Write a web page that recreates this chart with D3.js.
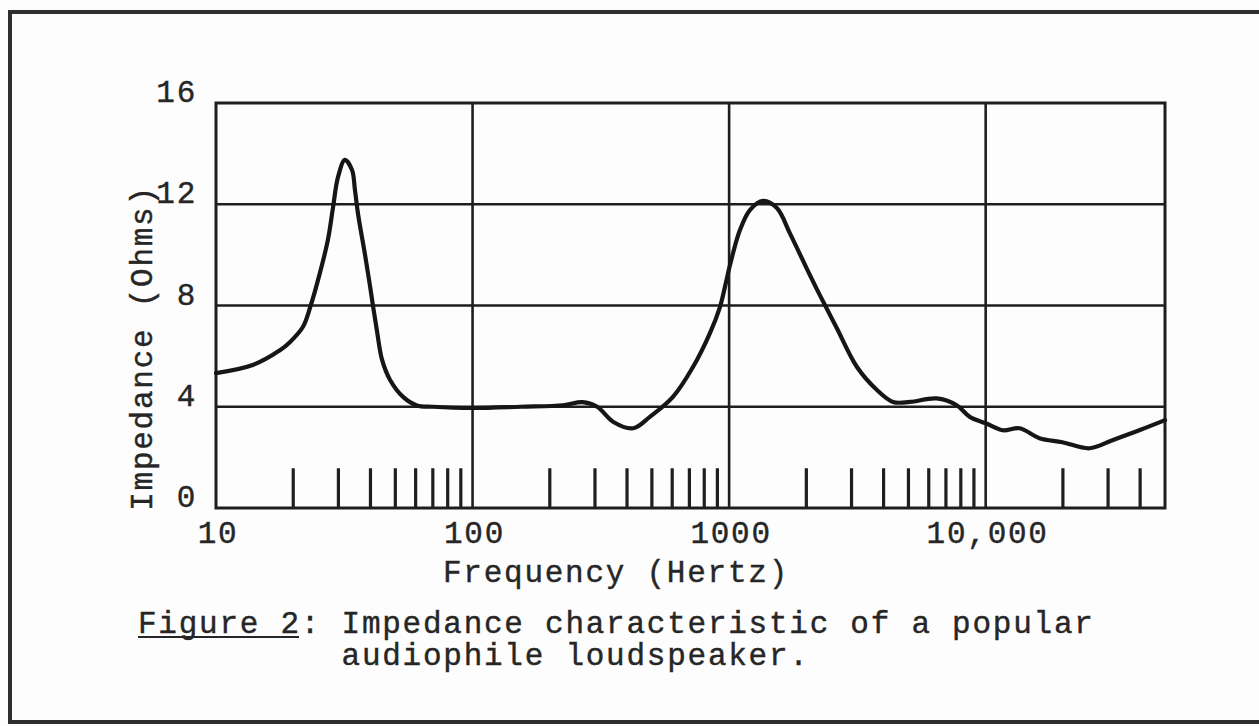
<!DOCTYPE html>
<html>
<head>
<meta charset="utf-8">
<script src="https://cdn.jsdelivr.net/npm/d3@7/dist/d3.min.js"></script>
<style>
  html, body { margin: 0; padding: 0; background: #fdfdfd; }
  svg { display: block; }
  text { font-family: "Liberation Mono", "Courier New", monospace; fill: #262626; }
</style>
</head>
<body>
<svg id="chart" width="1259" height="726"></svg>
<script>
// ---- data ----
const frequency = [10, 13.9, 17.8, 19.4, 21.8, 23.3, 25.4, 27.3, 28.6, 29.9, 31.8, 33.9, 34.8,
  35.8, 38.1, 39.8, 40.9, 42.4, 44.4, 47.7, 53.6, 60.7, 70, 100,
  154, 226, 268, 306, 354, 423, 491, 604, 723, 842, 921, 964, 1008, 1102, 1205, 1355,
  1535, 1726, 2010, 2260, 2630, 3150, 3770, 4350, 5070, 6440, 7710, 8670,
  10000, 11640, 13550, 16200, 19900, 25400, 31200, 39700, 50000];
const impedance = [5.33, 5.65, 6.24, 6.55, 7.15, 7.94, 9.28, 10.59, 11.89, 13.08, 13.75, 13.35, 12.56,
  11.6, 10.0, 8.8, 8.0, 7.0, 5.85, 5.06, 4.39, 4.05, 4.0, 3.95,
  4.0, 4.06, 4.18, 4.0, 3.4, 3.15, 3.6, 4.39, 5.57, 6.91, 7.94, 8.75, 9.6, 10.98, 11.77, 12.13,
  11.85, 10.85, 9.45, 8.4, 7.1, 5.57, 4.66, 4.19, 4.19, 4.33, 4.06, 3.6,
  3.35, 3.07, 3.15, 2.76, 2.6, 2.36, 2.68, 3.07, 3.47];
const xMajorTicks = [10, 100, 1000, 10000];
const xMajorLabels = ["10", "100", "1000", "10,000"];
const xMinorTicks = [20, 30, 40, 50, 60, 70, 80, 90,
  200, 300, 400, 500, 600, 700, 800, 900,
  2000, 3000, 4000, 5000, 6000, 7000, 8000, 9000,
  20000, 30000, 40000];
const yTicks = [0, 4, 8, 12, 16];
const xDomain = [10, 50000];
const yDomain = [0, 16];
const minorTickHeight = 1.57;
const xTitle = "Frequency (Hertz)";
const yTitle = "Impedance (Ohms)";
const captionLead = "Figure 2";
const captionLine1 = "Figure 2: Impedance characteristic of a popular";
const captionLine2 = "          audiophile loudspeaker.";

// ---- drawing ----
(function () {
const svg = d3.select("#chart");
const ink = "#1e1e1e";
const pL = 216, pR = 1165, pT = 103, pB = 508;

const x = d3.scaleLog().domain(xDomain).range([pL, pR]);
const y = d3.scaleLinear().domain(yDomain).range([pB, pT]);

// outer frame
svg.append("rect")
  .attr("x", 10).attr("y", 12).attr("width", 1262).attr("height", 710)
  .attr("fill", "none").attr("stroke", "#2e2e2e").attr("stroke-width", 4);

// horizontal grid (inner)
svg.append("g").selectAll("line")
  .data(yTicks.filter(v => v > yDomain[0] && v < yDomain[1]))
  .join("line")
  .attr("x1", pL).attr("x2", pR)
  .attr("y1", d => y(d)).attr("y2", d => y(d))
  .attr("stroke", ink).attr("stroke-width", 2.4);

// vertical grid (inner decades)
svg.append("g").selectAll("line")
  .data(xMajorTicks.filter(v => v > xDomain[0]))
  .join("line")
  .attr("x1", d => x(d)).attr("x2", d => x(d))
  .attr("y1", pT).attr("y2", pB)
  .attr("stroke", ink).attr("stroke-width", 2.6);

// minor ticks
svg.append("g").selectAll("line")
  .data(xMinorTicks)
  .join("line")
  .attr("x1", d => x(d)).attr("x2", d => x(d))
  .attr("y1", pB).attr("y2", y(minorTickHeight))
  .attr("stroke", ink).attr("stroke-width", 3.2);

// plot border
svg.append("rect")
  .attr("x", pL).attr("y", pT)
  .attr("width", pR - pL).attr("height", pB - pT)
  .attr("fill", "none").attr("stroke", ink).attr("stroke-width", 3);

// curve
const pts = frequency.map((f, i) => [f, impedance[i]]);
const line = d3.line()
  .x(d => x(d[0])).y(d => y(d[1]))
  .curve(d3.curveCatmullRom.alpha(0.5));
svg.append("path")
  .datum(pts)
  .attr("d", line)
  .attr("fill", "none")
  .attr("stroke", "#161616")
  .attr("stroke-width", 4.2)
  .attr("stroke-linejoin", "round")
  .attr("stroke-linecap", "round");

// axis labels
const fs = 31, ls = 1.75;
function styled(sel) {
  return sel.attr("font-size", fs).attr("letter-spacing", ls)
    .style("stroke", "#262626").style("stroke-width", 0.4);
}

styled(svg.append("g").selectAll("text")
  .data(yTicks)
  .join("text")
  .attr("x", 197)
  .attr("y", d => y(d) - 1)
  .attr("text-anchor", "end")
  .text(d => String(d)));

styled(svg.append("g").selectAll("text")
  .data(xMajorTicks)
  .join("text")
  .attr("x", d => x(d) + 2)
  .attr("y", 543)
  .attr("text-anchor", "middle")
  .text((d, i) => xMajorLabels[i]));

styled(svg.append("text")
  .attr("x", 616).attr("y", 582)
  .attr("text-anchor", "middle")
  .text(xTitle));

styled(svg.append("text")
  .attr("transform", "translate(152,348) rotate(-90)")
  .attr("text-anchor", "middle")
  .text(yTitle));

// caption
styled(svg.append("text")
  .attr("x", 138).attr("y", 633)
  .attr("xml:space", "preserve")
  .style("white-space", "pre")
  .text(captionLine1));
styled(svg.append("text")
  .attr("x", 138).attr("y", 665)
  .attr("xml:space", "preserve")
  .style("white-space", "pre")
  .text(captionLine2));

// underline of "Figure 2"
const adv = fs * 0.6 + ls;
svg.append("line")
  .attr("x1", 138).attr("x2", 138 + captionLead.length * adv - ls)
  .attr("y1", 637).attr("y2", 637)
  .attr("stroke", "#262626").attr("stroke-width", 2);
})();
</script>
</body>
</html>
